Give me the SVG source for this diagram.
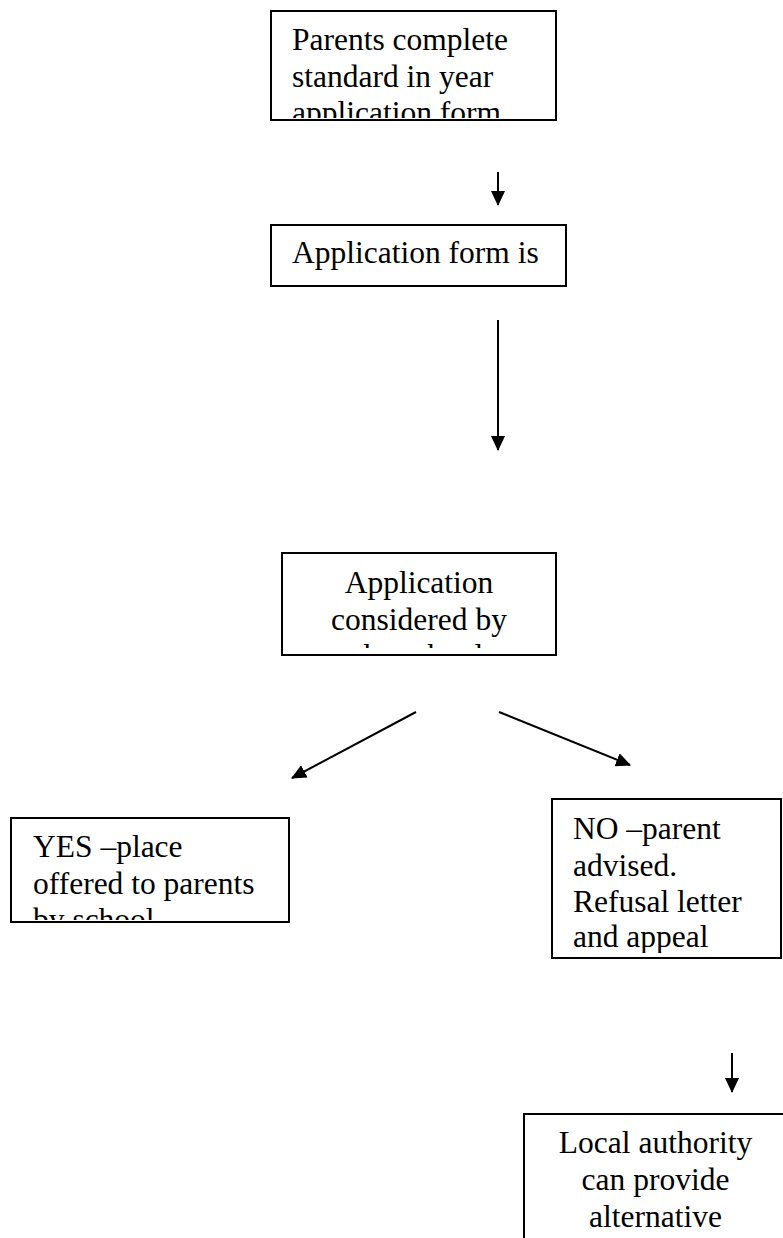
<svg xmlns="http://www.w3.org/2000/svg" width="783" height="1238" viewBox="0 0 783 1238">
<style>
.box{fill:#fff;stroke:#000;stroke-width:2}
.t{font-family:"Liberation Serif","Times New Roman",serif;font-size:31.5px;fill:#000}
.c{text-anchor:middle}
.edge{stroke:#000;stroke-width:2;fill:none;marker-end:url(#ah)}
</style>
<defs>
<marker id="ah" markerUnits="userSpaceOnUse" markerWidth="15" markerHeight="14" refX="14" refY="7" orient="auto">
<path d="M0,0 L15,7 L0,14 Z" fill="#000"/>
</marker>
<clipPath id="c1"><rect x="272" y="12" width="283" height="106"/></clipPath>
<clipPath id="c2"><rect x="272" y="226" width="293" height="59"/></clipPath>
<clipPath id="c3"><rect x="283" y="554" width="272" height="94"/></clipPath>
<clipPath id="c4"><rect x="12" y="819" width="276" height="101"/></clipPath>
<clipPath id="c5"><rect x="553" y="800" width="227" height="153"/></clipPath>
<clipPath id="c6"><rect x="525" y="1115" width="270" height="130"/></clipPath>
</defs>
<g id="connectors">
<line class="edge" x1="498" y1="172" x2="498" y2="205"/>
<line class="edge" x1="498" y1="320" x2="498" y2="450"/>
<line class="edge" x1="416" y1="712" x2="292" y2="778"/>
<line class="edge" x1="499" y1="712" x2="630" y2="765"/>
<line class="edge" x1="732" y1="1053" x2="732" y2="1092"/>
</g>
<g id="node-parents">
<rect class="box" x="271" y="11" width="285" height="109"/>
<g clip-path="url(#c1)">
<text class="t" x="292" y="50">Parents complete</text>
<text class="t" x="292" y="86.5">standard in year</text>
<text class="t" x="292" y="123">application form</text>
</g>
</g>
<g id="node-form">
<rect class="box" x="271" y="225" width="295" height="61"/>
<g clip-path="url(#c2)">
<text class="t" x="292" y="263">Application form is</text>
</g>
</g>
<g id="node-considered">
<rect class="box" x="282" y="553" width="274" height="102"/>
<g clip-path="url(#c3)">
<text class="t c" x="419" y="593">Application</text>
<text class="t c" x="419" y="629.5">considered by</text>
<text class="t c" x="419" y="666">the school</text>
</g>
</g>
<g id="node-yes">
<rect class="box" x="11" y="818" width="278" height="104"/>
<g clip-path="url(#c4)">
<text class="t" x="33" y="857">YES –place</text>
<text class="t" x="33" y="893.5">offered to parents</text>
<text class="t" x="33" y="930">by school</text>
</g>
</g>
<g id="node-no">
<rect class="box" x="552" y="799" width="229" height="159"/>
<g clip-path="url(#c5)">
<text class="t" x="573" y="839">NO –parent</text>
<text class="t" x="573" y="875.5">advised.</text>
<text class="t" x="573" y="912">Refusal letter</text>
<text class="t" x="573" y="947">and appeal</text>
</g>
</g>
<g id="node-local">
<rect class="box" x="524" y="1114" width="272" height="140"/>
<g clip-path="url(#c6)">
<text class="t c" x="655.5" y="1153">Local authority</text>
<text class="t c" x="655.5" y="1190">can provide</text>
<text class="t c" x="655.5" y="1227">alternative</text>
</g>
</g>
</svg>
